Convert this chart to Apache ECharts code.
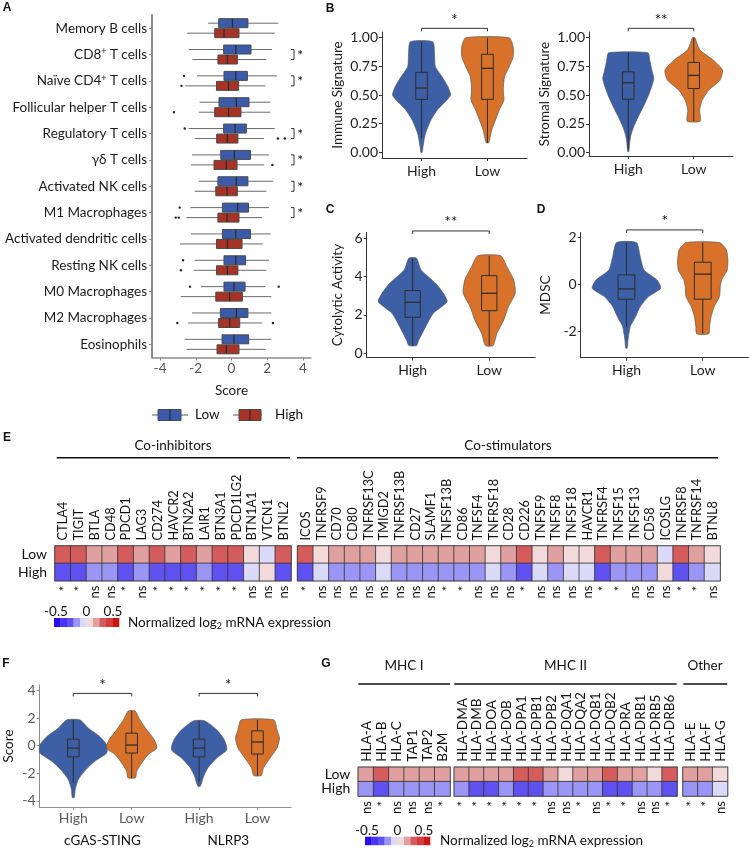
<!DOCTYPE html>
<html><head><meta charset="utf-8">
<script src="https://cdn.jsdelivr.net/npm/echarts@6/dist/echarts.min.js"></script>
<style>html,body{margin:0;padding:0;background:#fff}#c{width:749px;height:848px}</style>
</head><body><div id="c"></div>
<script>
// ================= DATA =================
// Panel A
const cellTypes = ['Memory B cells','CD8+ T cells','Naïve CD4+ T cells','Follicular helper T cells','Regulatory T cells','γδ T cells','Activated NK cells','M1 Macrophages','Activated dendritic cells','Resting NK cells','M0 Macrophages','M2 Macrophages','Eosinophils'];
const lowBoxA = [[-1.31,-0.72,0.05,0.92,2.62],[-2.39,-0.44,0.24,1.09,2.27],[-1.93,-0.42,0.24,0.89,2.55],[-1.78,-0.70,0.27,0.98,2.18],[-2.40,-0.44,0.20,0.83,2.42],[-2.21,-0.60,0.16,1.06,2.10],[-1.83,-0.76,0.27,0.92,2.32],[-2.30,-0.51,0.35,0.95,2.10],[-2.28,-0.51,0.24,1.06,2.18],[-2.06,-0.42,0.24,0.79,2.10],[-1.72,-0.42,0.14,0.76,1.91],[-2.21,-0.62,0.27,0.92,2.23],[-2.62,-0.53,0.14,0.96,2.23]];
const highBoxA = [[-2.49,-0.94,-0.42,0.42,2.42],[-2.19,-0.76,-0.23,0.33,1.95],[-2.58,-0.84,-0.17,0.40,1.90],[-1.83,-0.94,-0.16,0.53,2.18],[-2.06,-0.83,-0.23,0.36,1.82],[-2.28,-0.98,-0.29,0.31,1.82],[-2.06,-0.88,-0.25,0.33,1.95],[-2.52,-0.76,-0.25,0.42,1.71],[-2.88,-0.84,-0.23,0.59,1.75],[-2.11,-0.84,-0.23,0.36,1.95],[-2.84,-0.88,-0.10,0.61,2.23],[-2.43,-0.72,-0.10,0.46,1.71],[-2.52,-0.81,-0.29,0.42,1.91]];
const lowOutA = [[2,-2.66],[4,-2.62],[7,-2.90],[9,-2.71],[10,-2.32],[10,2.64]];
const highOutA = [[2,-2.80],[3,-3.22],[4,2.60],[4,2.98],[5,2.29],[7,-3.12],[7,-2.95],[9,-2.83],[11,-3.03],[11,2.32]];
const sigA = ['','*','*','','*','*','*','*','','','','',''];
const ticksA = [-4,-2,0,2,4];

// Panels B-D
const groupsBD = ['High','Low'];
const immuneHighY = [0.965,0.863,0.747,0.66,0.573,0.5,0.44,0.37,0.28,0.166,0.08,0.0];
const immuneHighW = [0.17,0.197,0.21,0.31,0.40,0.44,0.36,0.24,0.14,0.06,0.03,0.01];
const immuneHighBox = [0.12,0.462,0.561,0.698,0.965];
const immuneLowY = [1.0,0.92,0.834,0.747,0.66,0.544,0.456,0.37,0.28,0.195,0.084];
const immuneLowW = [0.33,0.39,0.39,0.33,0.26,0.24,0.25,0.18,0.12,0.065,0.02];
const immuneLowBox = [0.084,0.462,0.733,0.855,1.0];
const stromalHighY = [0.869,0.80,0.72,0.645,0.58,0.50,0.40,0.31,0.22,0.15,0.08,0.01];
const stromalHighW = [0.30,0.33,0.36,0.39,0.36,0.31,0.23,0.15,0.08,0.04,0.02,0.01];
const stromalHighBox = [0.03,0.465,0.608,0.703,0.869];
const stromalLowY = [1.0,0.95,0.89,0.805,0.718,0.63,0.544,0.456,0.37,0.273];
const stromalLowW = [0.02,0.05,0.10,0.30,0.44,0.40,0.23,0.13,0.09,0.10];
const stromalLowBox = [0.273,0.558,0.672,0.785,1.0];
const cytoHighY = [4.96,4.35,3.65,3.13,2.69,2.09,1.39,0.69,0.40];
const cytoHighW = [0.05,0.11,0.30,0.40,0.45,0.27,0.17,0.08,0.05];
const cytoHighBox = [0.40,1.88,2.66,3.27,4.96];
const cytoLowY = [5.09,4.52,3.82,3.13,2.43,1.74,1.04,0.40];
const cytoLowW = [0.15,0.23,0.32,0.34,0.25,0.19,0.10,0.05];
const cytoLowBox = [0.40,2.22,3.13,4.05,5.09];
const mdscHighY = [1.78,1.18,0.61,0.18,-0.17,-0.53,-0.96,-1.38,-1.81,-2.38,-2.73];
const mdscHighW = [0.13,0.18,0.23,0.40,0.45,0.29,0.18,0.12,0.05,0.02,0.01];
const mdscHighBox = [-1.85,-0.64,-0.20,0.40,1.78];
const mdscLowY = [1.78,1.47,1.0,0.6,0.2,-0.1,-0.53,-0.96,-1.38,-1.81,-2.12];
const mdscLowW = [0.22,0.31,0.33,0.32,0.25,0.23,0.22,0.15,0.11,0.09,0.08];
const mdscLowBox = [-2.12,-0.64,0.43,0.94,1.78];
const ticksImmune = [0,0.25,0.5,0.75,1];
const ticksCyto = [0,2,4,6];
const ticksMdsc = [-2,0,2];
const sigImmune = '*', sigStromal = '**', sigCyto = '**', sigMdsc = '*';

// Panel F
const groupsF = ['cGAS-STING','NLRP3'];
const ticksF = [-4,-2,0,2,4];
const cgasHighY = [1.87,1.27,0.67,0.07,-0.53,-1.13,-1.73,-2.45,-3.17,-3.76];
const cgasHighW = [0.053,0.12,0.21,0.265,0.265,0.17,0.10,0.04,0.015,0.008];
const cgasHighBox = [-2.7,-0.81,-0.17,0.48,1.87];
const cgasLowY = [2.52,1.87,1.15,0.43,-0.17,-0.65,-1.25,-1.85,-2.32];
const cgasLowW = [0.027,0.066,0.12,0.18,0.2,0.13,0.08,0.04,0.03];
const cgasLowBox = [-2.32,-0.53,0.05,0.91,2.52];
const nlrpHighY = [1.8,1.15,0.43,-0.29,-0.89,-1.6,-2.2,-2.93];
const nlrpHighW = [0.045,0.14,0.2,0.22,0.14,0.07,0.037,0.01];
const nlrpHighBox = [-2.6,-0.81,-0.17,0.48,1.8];
const nlrpLowY = [1.87,1.15,0.55,-0.17,-0.89,-1.6,-2.16];
const nlrpLowW = [0.13,0.155,0.175,0.155,0.1,0.048,0.03];
const nlrpLowBox = [-2.16,-0.6,0.27,1.08,1.87];
const sigF = ['*','*'];

// Panel E
const coInhibGenes = ['CTLA4','TIGIT','BTLA','CD48','PDCD1','LAG3','CD274','HAVCR2','BTN2A2','LAIR1','BTN3A1','PDCD1LG2','BTN1A1','VTCN1','BTNL2'];
const coInhibLow  = [0.25,0.25,0.15,0.15,0.25,0.15,0.25,0.15,0.25,0.15,0.25,0.25,0.05,-0.05,0.25];
const coInhibHigh = [-0.25,-0.25,-0.15,-0.15,-0.25,-0.15,-0.25,-0.25,-0.25,-0.15,-0.25,-0.25,-0.05,0.05,-0.25];
const coInhibSig  = ['*','*','ns','ns','*','ns','*','*','*','*','*','*','ns','ns','ns'];
const coStimGenes = ['ICOS','TNFRSF9','CD70','CD80','TNFRSF13C','TMIGD2','TNFRSF13B','CD27','SLAMF1','TNFSF13B','CD86','TNFSF4','TNFRSF18','CD28','CD226','TNFSF9','TNFSF8','TNFSF18','HAVCR1','TNFRSF4','TNFSF15','TNFSF13','CD58','ICOSLG','TNFRSF8','TNFRSF14','BTNL8'];
const coStimLow  = [0.25,0.05,0.15,0.15,0.15,0.05,0.15,0.15,0.15,0.15,0.15,0.15,0.05,0.15,0.25,0.05,0.15,0.05,0.05,0.25,0.15,0.15,0.15,-0.05,0.25,0.15,0.05];
const coStimHigh = [-0.25,-0.05,-0.15,-0.15,-0.15,-0.05,-0.15,-0.15,-0.15,-0.15,-0.15,-0.15,-0.05,-0.15,-0.25,-0.05,-0.15,-0.05,-0.05,-0.25,-0.15,-0.15,-0.15,0.05,-0.25,-0.15,-0.05];
const coStimSig  = ['*','ns','ns','ns','ns','ns','ns','ns','ns','*','*','ns','ns','ns','*','ns','ns','ns','ns','*','*','ns','ns','ns','*','*','ns'];

// Panel G
const mhc1Genes = ['HLA-A','HLA-B','HLA-C','TAP1','TAP2','B2M'];
const mhc1Low  = [0.15,0.25,0.15,0.15,0.15,0.15];
const mhc1High = [-0.15,-0.25,-0.15,-0.15,-0.15,-0.15];
const mhc1Sig  = ['ns','*','ns','ns','ns','*'];
const mhc2Genes = ['HLA-DMA','HLA-DMB','HLA-DOA','HLA-DOB','HLA-DPA1','HLA-DPB1','HLA-DPB2','HLA-DQA1','HLA-DQA2','HLA-DQB1','HLA-DQB2','HLA-DRA','HLA-DRB1','HLA-DRB5','HLA-DRB6'];
const mhc2Low  = [0.15,0.15,0.15,0.15,0.25,0.25,0.15,0.05,0.15,0.15,0.25,0.15,0.15,0.05,0.25];
const mhc2High = [-0.15,-0.25,-0.25,-0.15,-0.25,-0.25,-0.15,-0.15,-0.15,-0.15,-0.25,-0.25,-0.15,-0.15,-0.25];
const mhc2Sig  = ['*','*','*','*','*','*','ns','ns','*','ns','*','*','ns','ns','*'];
const otherGenes = ['HLA-E','HLA-F','HLA-G'];
const otherLow  = [0.15,0.15,0.05];
const otherHigh = [-0.15,-0.15,-0.05];
const otherSig  = ['*','*','ns'];
const heatRows = ['High','Low'];
const heatColors = ['#2a0aee','#4636f0','#5f50f0','#9b96f5','#dadaf8','#f2dada','#e0a0a0','#d45c5c','#d43c3c','#cc1414'];
const heatLegendTicks = ['-0.5','0','0.5'];

// ================= CHART =================
const FONT = 'Lato';
const BLUE_A = '#3b5baa', RED_A = '#a63326';
const VBLUE = '#3d5fa5', VORANGE = '#d8722a';
const grids = [], xAxes = [], yAxes = [], series = [], graphics = [];

function T(x, y, text, o) {
  o = o || {};
  graphics.push({type:'text', x, y, silent:true, style:Object.assign({text, fill:o.fill||'#111', fontSize:o.fontSize||13.5, fontFamily:o.fontFamily||FONT, fontWeight:o.fontWeight||'normal', textAlign:o.align||'center', textVerticalAlign:o.valign||'middle', align:o.align||'center', verticalAlign:o.valign||'middle'}, o.rich?{rich:o.rich}:{})});
}
function L(x1,y1,x2,y2,color,w){ graphics.push({type:'line', silent:true, shape:{x1,y1,x2,y2}, style:{stroke:color||'#111', lineWidth:w||1}}); }
function R(x,y,w,h,fill,stroke){ graphics.push({type:'rect', silent:true, shape:{x,y,width:w,height:h}, style:{fill, stroke:stroke||null, lineWidth:1}}); }

// ---------- Panel A ----------
grids.push({left:152, top:15, width:159, height:342.5});
xAxes.push({type:'value', gridIndex:0, min:-4.45, max:4.45,
  axisLine:{show:true, onZero:false, lineStyle:{color:'#8c8c8c', width:1.5}},
  axisTick:{show:true, customValues:ticksA, length:3, lineStyle:{color:'#8c8c8c'}},
  axisLabel:{customValues:ticksA, color:'#555', fontSize:13.5, fontFamily:FONT, margin:4},
  splitLine:{show:false}, name:'Score', nameLocation:'middle', nameGap:26,
  nameTextStyle:{fontSize:13.5, color:'#1a1a1a', fontFamily:FONT}});
yAxes.push({type:'category', gridIndex:0, data:cellTypes, inverse:true,
  axisLine:{show:true, onZero:false, lineStyle:{color:'#8c8c8c', width:2}},
  axisTick:{show:true, alignWithLabel:true, length:3, lineStyle:{color:'#8c8c8c'}},
  axisLabel:{margin:5, interval:0, formatter:v=>{ if(v.indexOf('+')>=0){const p=v.split('+'); return p.map(s=>'{n|'+s+'}').join('{s|+}');} return '{n|'+v+'}'; },
    rich:{n:{fontSize:13.5, color:'#1a1a1a', fontFamily:FONT, lineHeight:15}, s:{fontSize:9, color:'#1a1a1a', fontFamily:FONT, lineHeight:8, verticalAlign:'top'}}}});
function hBox(api, st, row, dy, fill) {
  const yc = api.coord([0,row])[1] + dy;
  const x = v => api.coord([v,row])[0];
  return [
    {type:'line', shape:{x1:x(st[0]), y1:yc, x2:x(st[4]), y2:yc}, style:{stroke:'#6a6a6a', lineWidth:1}},
    {type:'rect', shape:{x:x(st[1]), y:yc-4.5, width:x(st[3])-x(st[1]), height:9}, style:{fill, stroke:'#4a4a4a', lineWidth:1}},
    {type:'line', shape:{x1:x(st[2]), y1:yc-4.5, x2:x(st[2]), y2:yc+4.5}, style:{stroke:'#2a2a2a', lineWidth:1.2}}
  ];
}
series.push({type:'custom', xAxisIndex:0, yAxisIndex:0, clip:false, silent:true,
  data: cellTypes.map((c,i)=>[lowBoxA[i][2], i]),
  renderItem:(params, api)=>{
    const i = params.dataIndex;
    const ch = [].concat(hBox(api, lowBoxA[i], i, -5, BLUE_A), hBox(api, highBoxA[i], i, 5, RED_A));
    lowOutA.filter(o=>o[0]===i).forEach(o=>{const p=api.coord([o[1],i]); ch.push({type:'circle', shape:{cx:p[0], cy:p[1]-5, r:1.2}, style:{fill:'#222'}});});
    highOutA.filter(o=>o[0]===i).forEach(o=>{const p=api.coord([o[1],i]); ch.push({type:'circle', shape:{cx:p[0], cy:p[1]+5, r:1.2}, style:{fill:'#222'}});});
    if (sigA[i]) {
      const yc = api.coord([0,i])[1];
      const xa = api.coord([3.33,i])[0], xb = api.coord([3.5,i])[0], xs = api.coord([3.85,i])[0];
      ch.push({type:'polyline', shape:{points:[[xa,yc-5],[xb,yc-5],[xb,yc+5],[xa,yc+5]]}, style:{stroke:'#333', lineWidth:1, fill:null}});
      ch.push({type:'text', x:xs, y:yc+1, style:{text:sigA[i], fill:'#111', fontSize:14, fontFamily:FONT, align:'center', verticalAlign:'middle', textAlign:'center', textVerticalAlign:'middle'}});
    }
    return {type:'group', children:ch};
  }});
// legend A
L(152,415,188,415,'#555',1); R(158,409.5,23,11,BLUE_A,'#4a4a4a'); L(170,409.5,170,420.5,'#2a2a2a',1.2);
T(195,415,'Low',{align:'left'});
L(233,415,262,415,'#555',1); R(239,409.5,22,11,RED_A,'#4a4a4a'); L(250,409.5,250,420.5,'#2a2a2a',1.2);
T(275,415,'High',{align:'left'});

// ---------- Violin panels ----------
function violinItem(api, v, bw) {
  const pts = [];
  for (let i=0;i<v.Y.length;i++) pts.push(api.coord([v.x+v.W[i], v.Y[i]]));
  for (let i=v.Y.length-1;i>=0;i--) pts.push(api.coord([v.x-v.W[i], v.Y[i]]));
  const c = (a,b)=>api.coord([a,b]);
  const b = v.box;
  const tl=c(v.x-bw,b[3]), br=c(v.x+bw,b[1]), m1=c(v.x-bw,b[2]), m2=c(v.x+bw,b[2]), w1=c(v.x,b[0]), w2=c(v.x,b[4]);
  return {type:'group', children:[
    {type:'polygon', shape:{points:pts, smooth:0.2}, style:{fill:v.color, stroke:'#5a5a5a', lineWidth:0.7}},
    {type:'line', shape:{x1:w1[0],y1:w1[1],x2:w2[0],y2:w2[1]}, style:{stroke:'#2e2e2e', lineWidth:1}},
    {type:'rect', shape:{x:tl[0], y:tl[1], width:br[0]-tl[0], height:br[1]-tl[1]}, style:{fill:v.color, stroke:'#2e2e2e', lineWidth:1}},
    {type:'line', shape:{x1:m1[0],y1:m1[1],x2:m2[0],y2:m2[1]}, style:{stroke:'#2e2e2e', lineWidth:1.3}}
  ]};
}
function bracketItem(api, br) {
  const p1 = api.coord([br.x1, br.y]), p2 = api.coord([br.x2, br.y]);
  return {type:'group', children:[
    {type:'polyline', shape:{points:[[p1[0],p1[1]+3],[p1[0],p1[1]],[p2[0],p2[1]],[p2[0],p2[1]+3]]}, style:{stroke:'#333', lineWidth:1, fill:null}},
    {type:'text', x:(p1[0]+p2[0])/2, y:p1[1]-1, style:{text:br.label, fill:'#111', fontSize:15, fontFamily:FONT, align:'center', verticalAlign:'bottom', textAlign:'center', textVerticalAlign:'bottom'}}
  ]};
}
function violinPanel(g, opt) {
  const gi = grids.length;
  grids.push(g);
  xAxes.push(Object.assign({type:'value', gridIndex:gi, min:opt.xmin, max:opt.xmax,
    axisLine:{show:true, onZero:false, lineStyle:{color:opt.axisColor, width:1}},
    axisTick:{show:true, customValues:opt.xTicks, length:3, lineStyle:{color:opt.axisColor}},
    axisLabel:{customValues:opt.xTicks, formatter:opt.xFmt, color:opt.labelColor, fontSize:14, fontFamily:FONT, margin:opt.xMargin||5},
    splitLine:{show:false}, position:'bottom', offset:0}));
  const xi = xAxes.length-1;
  if (opt.groupAxis) { xAxes.push(Object.assign({gridIndex:gi}, opt.groupAxis)); }
  yAxes.push({type:'value', gridIndex:gi, min:opt.ymin, max:opt.ymax,
    axisLine:{show:true, onZero:false, lineStyle:{color:opt.axisColor, width:1}},
    axisTick:{show:true, customValues:opt.yTicks, length:3, lineStyle:{color:opt.axisColor}},
    axisLabel:{customValues:opt.yTicks, formatter:opt.yFmt, color:opt.labelColor, fontSize:14, fontFamily:FONT, margin:4},
    splitLine:{show:false}, name:opt.yName, nameLocation:'middle', nameGap:opt.nameGap, nameRotate:90,
    nameTextStyle:{fontSize:13.5, color:'#1a1a1a', fontFamily:FONT}});
  const yi = yAxes.length-1;
  series.push({type:'custom', xAxisIndex:xi, yAxisIndex:yi, clip:false, silent:true,
    data: opt.violins.map(v=>[v.x, v.box[2]]),
    renderItem:(params, api)=>violinItem(api, opt.violins[params.dataIndex], opt.bw)});
  series.push({type:'custom', xAxisIndex:xi, yAxisIndex:yi, clip:false, silent:true,
    data: opt.brackets.map(b=>[b.x1, b.y]),
    renderItem:(params, api)=>bracketItem(api, opt.brackets[params.dataIndex])});
}
const catFmt = v => groupsBD[Math.round(v)-1];
const bdCommon = {xmin:0.4, xmax:2.6, xTicks:[1,2], xFmt:catFmt, axisColor:'#333', labelColor:'#1e1e1e', xMargin:6};
violinPanel({left:382, top:32, width:145, height:126}, Object.assign({}, bdCommon, {
  ymin:-0.05, ymax:1.05, yTicks:ticksImmune, yFmt:v=>v.toFixed(2), yName:'Immune Signature', nameGap:37, bw:0.088,
  violins:[{x:1, Y:immuneHighY, W:immuneHighW, box:immuneHighBox, color:VBLUE},{x:2, Y:immuneLowY, W:immuneLowW, box:immuneLowBox, color:VORANGE}],
  brackets:[{x1:1, x2:2, y:1.082, label:sigImmune}]}));
violinPanel({left:589, top:32, width:144, height:124}, Object.assign({}, bdCommon, {
  ymin:-0.03, ymax:1.05, yTicks:ticksImmune, yFmt:v=>v.toFixed(2), yName:'Stromal Signature', nameGap:37, bw:0.088,
  violins:[{x:1, Y:stromalHighY, W:stromalHighW, box:stromalHighBox, color:VBLUE},{x:2, Y:stromalLowY, W:stromalLowW, box:stromalLowBox, color:VORANGE}],
  brackets:[{x1:1, x2:2, y:1.082, label:sigStromal}]}));
violinPanel({left:366.7, top:232.5, width:168.5, height:125}, Object.assign({}, bdCommon, {
  ymin:-0.22, ymax:6.3, yTicks:ticksCyto, yFmt:v=>String(v), yName:'Cytolytic Activity', nameGap:22, bw:0.10,
  violins:[{x:1, Y:cytoHighY, W:cytoHighW, box:cytoHighBox, color:VBLUE},{x:2, Y:cytoLowY, W:cytoLowW, box:cytoLowBox, color:VORANGE}],
  brackets:[{x1:1, x2:2, y:6.38, label:sigCyto}]}));
violinPanel({left:580.7, top:232.5, width:167.8, height:125.2}, Object.assign({}, bdCommon, {
  ymin:-3.14, ymax:2.21, yTicks:ticksMdsc, yFmt:v=>String(v), yName:'MDSC', nameGap:28, bw:0.11,
  violins:[{x:1, Y:mdscHighY, W:mdscHighW, box:mdscHighBox, color:VBLUE},{x:2, Y:mdscLowY, W:mdscLowW, box:mdscLowBox, color:VORANGE}],
  brackets:[{x1:1, x2:2, y:2.32, label:sigMdsc}]}));
// Panel F
const dodge = 0.232;
const fPos = [1-dodge, 1+dodge, 2-dodge, 2+dodge];
const fFmt = v => { let b=0; fPos.forEach((p,i)=>{ if (Math.abs(p-v) < Math.abs(fPos[b]-v)) b=i; }); return groupsBD[b%2]; };
violinPanel({left:39.6, top:685, width:251.6, height:122.7}, {
  xmin:0.5, xmax:2.5, xTicks:fPos, xFmt:fFmt, axisColor:'#8c8c8c', labelColor:'#595959', xMargin:4,
  groupAxis:{type:'value', min:0.5, max:2.5, position:'bottom', offset:0, axisLine:{show:false}, axisTick:{show:false}, splitLine:{show:false},
    axisLabel:{customValues:[1,2], formatter:v=>groupsF[Math.round(v)-1], color:'#111', fontSize:13.5, fontFamily:FONT, margin:27}},
  ymin:-4.44, ymax:4.4, yTicks:ticksF, yFmt:v=>String(v), yName:'Score', nameGap:24, bw:0.046,
  violins:[{x:fPos[0], Y:cgasHighY, W:cgasHighW, box:cgasHighBox, color:VBLUE},{x:fPos[1], Y:cgasLowY, W:cgasLowW, box:cgasLowBox, color:VORANGE},
           {x:fPos[2], Y:nlrpHighY, W:nlrpHighW, box:nlrpHighBox, color:VBLUE},{x:fPos[3], Y:nlrpLowY, W:nlrpLowW, box:nlrpLowBox, color:VORANGE}],
  brackets:[{x1:fPos[0], x2:fPos[1], y:3.79, label:sigF[0]},{x1:fPos[2], x2:fPos[3], y:3.79, label:sigF[1]}]});

// ---------- Heatmaps ----------
const heatSeriesIdx = [];
function heatBlock(g, genes, low, high, sig, showRows, fs) {
  const gi = grids.length;
  grids.push(Object.assign({show:true, borderColor:'#9a9a9a', borderWidth:1.5, backgroundColor:'transparent'}, g));
  xAxes.push({type:'category', gridIndex:gi, data:genes, position:'bottom', offset:0,
    axisLine:{show:false}, axisTick:{show:false}, splitLine:{show:false}, axisLabel:{show:false}});
  const xi = xAxes.length-1;
  yAxes.push({type:'category', gridIndex:gi, data:heatRows,
    axisLine:{show:false}, axisTick:{show:false}, splitLine:{show:false},
    axisLabel:{show:showRows, interval:0, hideOverlap:false, fontSize:14, lineHeight:10, fontFamily:FONT, color:'#111', margin:8}});
  const yi = yAxes.length-1;
  const data = [];
  genes.forEach((gname,i)=>{ data.push([i,1,low[i]]); data.push([i,0,high[i]]); });
  heatSeriesIdx.push(series.length);
  series.push({type:'heatmap', xAxisIndex:xi, yAxisIndex:yi, data, silent:true,
    itemStyle:{borderColor:'#333', borderWidth:0.8}, emphasis:{disabled:true}});
  // rotated gene names (top) and significance marks (bottom)
  series.push({type:'custom', xAxisIndex:xi, yAxisIndex:yi, clip:false, silent:true, z:5,
    data: genes.map((gname,i)=>[i,1]),
    renderItem:(params, api)=>{
      const i = params.dataIndex;
      const half = api.size([0,1])[1]/2;
      const top = api.coord([i,1]), bot = api.coord([i,0]);
      return {type:'group', children:[
        {type:'text', x:top[0]+0.5, y:top[1]-half-5.5, rotation:Math.PI/2,
          style:{text:genes[i], fill:'#111', fontSize:fs, fontFamily:FONT, align:'left', verticalAlign:'middle', textAlign:'left', textVerticalAlign:'middle'}},
        {type:'text', x:bot[0]+ (sig[i]==='*'?1.5:0.5), y:bot[1]+half+5, rotation:Math.PI/2,
          style:{text:sig[i], fill:'#111', fontSize:13, fontFamily:FONT, align:'right', verticalAlign:'middle', textAlign:'right', textVerticalAlign:'middle'}}
      ]};
    }});
}
heatBlock({left:55, top:546, width:236, height:34.7}, coInhibGenes, coInhibLow, coInhibHigh, coInhibSig, true, 12.8);
heatBlock({left:297.6, top:546, width:422.5, height:34.7}, coStimGenes, coStimLow, coStimHigh, coStimSig, false, 12.8);
heatBlock({left:358.3, top:767.3, width:91.7, height:28.7}, mhc1Genes, mhc1Low, mhc1High, mhc1Sig, true, 13.6);
heatBlock({left:454.3, top:767.3, width:222.7, height:28.7}, mhc2Genes, mhc2Low, mhc2High, mhc2Sig, false, 13.6);
heatBlock({left:683, top:767.3, width:44.5, height:28.7}, otherGenes, otherLow, otherHigh, otherSig, false, 13.6);

// headers
T(173,446,'Co-inhibitors'); L(56.7,457.7,290,457.7,'#111',1.5);
T(508,446,'Co-stimulators'); L(297,457.7,718,457.7,'#111',1.5);
T(404,666,'MHC I'); L(358.3,684,450,684,'#111',1.5);
T(565.5,666,'MHC II'); L(454.3,684,676.7,684,'#111',1.5);
T(705,666,'Other'); L(683.3,684,727.3,684,'#111',1.5);

// heat legends
function heatLegend(x0, y0, w, h, tx) {
  const bw = w/heatColors.length;
  heatColors.forEach((c,i)=>R(x0+i*bw, y0, bw+0.3, h, c, null));
  T(x0+2, y0-6.5, heatLegendTicks[0]); T(x0+w/2, y0-6.5, heatLegendTicks[1]); T(x0+w-6, y0-6.5, heatLegendTicks[2]);
  T(tx, y0+h/2, '{a|Normalized log}{b|2}{a| mRNA expression}', {align:'left', rich:{a:{fontSize:13.5, fontFamily:FONT, fill:'#111', color:'#111', lineHeight:16}, b:{fontSize:9, fontFamily:FONT, color:'#111', lineHeight:6, verticalAlign:'bottom'}}});
}
heatLegend(54, 618, 65, 9, 128);
heatLegend(365, 836.7, 65, 8.5, 440);

// panel letters
[['A',7,8],['B',330,9],['C',330,210],['D',541,210],['E',7,438],['F',6,664],['G',326,664]].forEach(p=>T(p[1],p[2],p[0],{fontWeight:'bold', fontFamily:'Liberation Sans', fontSize:12}));

const option = {
  animation:false, backgroundColor:'#fff',
  grid:grids, xAxis:xAxes, yAxis:yAxes, series,
  visualMap:{type:'piecewise', show:false, dimension:2, seriesIndex:heatSeriesIdx,
    pieces: heatColors.map((c,i)=>({min:-0.5+0.1*i, max:-0.4+0.1*i, color:c}))},
  graphic:graphics
};
const chart = echarts.init(document.getElementById('c'));
chart.setOption(option);
</script></body></html>
